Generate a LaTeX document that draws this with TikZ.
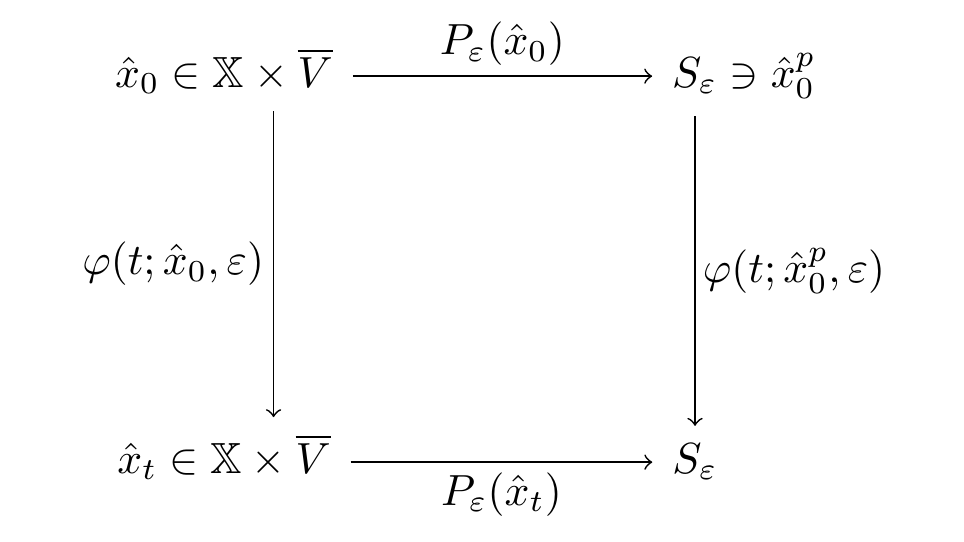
\documentclass[tikz,border=0pt]{standalone}
\usepackage{amssymb}
\usetikzlibrary{calc}

\begin{document}
\begin{tikzpicture}[line width=0.4pt,
	every node/.style={inner xsep=4.4pt, inner ysep=3.8pt},
	lbl/.style={inner sep=2.2pt}]
\useasboundingbox (0,0) rectangle (7.774,4.371);

%corners
\node[anchor=base] (x0) at (1.806,3.669) {$\hat{x}_0 \in \mathbb{X} \times \overline{V}$};
\node[anchor=base] (S0) at (6.0,3.669) {$S_\varepsilon \ni \hat{x}_0^p$};
\node[anchor=base] (xt) at (1.806,0.556) {$\hat{x}_t \in \mathbb{X} \times \overline{V}$};
\node[anchor=base] (St) at (5.605,0.556) {$S_\varepsilon$};

%axis height of the rows
\coordinate (a0) at ($(x0.base east)+(0,2.5pt)$);
\coordinate (at) at ($(xt.base east)+(0,2.5pt)$);

%P_eps
\draw[->] (a0)--(a0 -| S0.west) node[midway,above,lbl]{$P_\varepsilon(\hat{x}_0)$};
\draw[->] (at)--(at -| St.west) node[midway,below,lbl]{$P_\varepsilon(\hat{x}_t)$};

%flows
\draw[->] ([xshift=0.4cm]x0.south)--([xshift=0.4cm]xt.north) node[midway,left,inner sep=2pt]{$\varphi(t;\hat{x}_0,\varepsilon)$};
\draw[->] (S0.south -| St.north)--(St.north) node[midway,right,inner sep=1.6pt]{$\varphi(t;\hat{x}_0^p,\varepsilon)$};

\end{tikzpicture}
\end{document}
